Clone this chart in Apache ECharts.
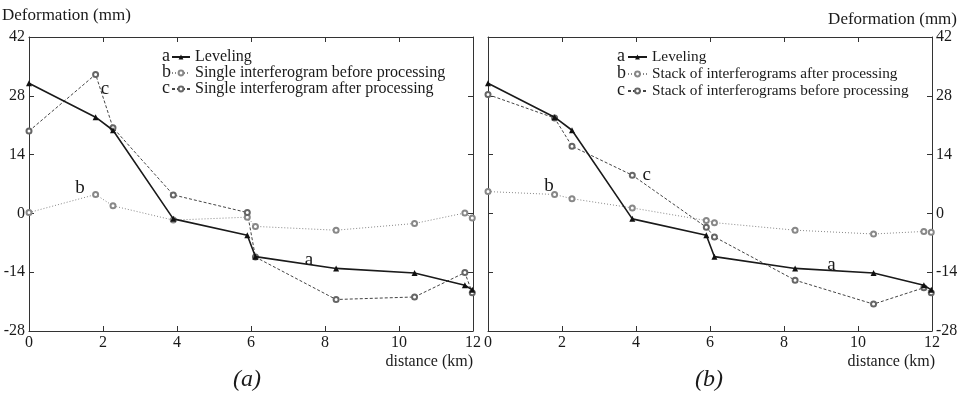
<!DOCTYPE html>
<html>
<head>
<meta charset="utf-8">
<script src="https://cdn.jsdelivr.net/npm/echarts@6/dist/echarts.min.js"></script>
<style>
  html, body { margin: 0; background: #fff; }
  #chart { width: 962px; height: 399px; }
</style>
</head>
<body>
<div id="chart"></div>
<script>
// distance along the profile (km), shared by every curve
const distance = [0, 1.8, 2.27, 3.9, 5.9, 6.12, 8.3, 10.42, 11.78, 11.98];

// deformation (mm)
const leveling = [31.0, 22.9, 19.8, -1.3, -5.2, -10.3, -13.1, -14.2, -17.1, -18.2];
const singleBefore = [0.2, 4.5, 1.8, -1.6, -0.9, -3.1, -4.0, -2.4, 0.1, -1.1];
const singleAfter = [19.6, 33.1, 20.4, 4.4, 0.2, -10.4, -20.5, -19.9, -14.1, -18.9];
const stackAfter = [5.2, 4.5, 3.5, 1.3, -1.7, -2.2, -4.0, -4.9, -4.3, -4.5];
const stackBefore = [28.3, 22.7, 16.0, 9.1, -3.3, -5.6, -15.9, -21.6, -17.7, -18.9];

// axis ranges
const xRange = { min: 0, max: 12, interval: 2 };
const yRange = { min: -28, max: 42, interval: 14 };

const FONT = 'Liberation Serif';
const INK = '#1a1a1a';

const chart = echarts.init(document.getElementById('chart'));

const pairs = vals => vals.map((v, i) => [distance[i], v]);

const axisLine = { show: true, onZero: false, lineStyle: { color: '#333', width: 1 } };
const axisTick = { show: true, inside: true, length: 5, lineStyle: { color: '#333' } };
const tickLabel = { fontFamily: FONT, fontSize: 16, color: INK };

function xAxes(grid) {
  return [
    { type: 'value', gridIndex: grid, position: 'bottom', ...xRange,
      axisLine, axisTick, splitLine: { show: false },
      axisLabel: { ...tickLabel, margin: 4 } },
    { type: 'value', gridIndex: grid, position: 'top', ...xRange,
      axisLine, axisTick, splitLine: { show: false }, axisLabel: { show: false } }
  ];
}

function yAxes(grid, labelSide) {
  const other = labelSide === 'left' ? 'right' : 'left';
  return [
    { type: 'value', gridIndex: grid, position: labelSide, ...yRange,
      axisLine, axisTick, splitLine: { show: false },
      axisLabel: { ...tickLabel, margin: 4 } },
    { type: 'value', gridIndex: grid, position: other, ...yRange,
      axisLine, axisTick, splitLine: { show: false }, axisLabel: { show: false } }
  ];
}

const styles = {
  level: {
    symbol: 'triangle', symbolSize: 6,
    itemStyle: { color: '#111' },
    lineStyle: { color: '#1a1a1a', width: 1.6, type: 'solid' }
  },
  dotted: {
    symbol: 'emptyCircle', symbolSize: 5,
    itemStyle: { color: '#888', borderWidth: 0.8 },
    lineStyle: { color: '#888', width: 1, type: [1, 2] }
  },
  dashed: {
    symbol: 'emptyCircle', symbolSize: 5,
    itemStyle: { color: '#666', borderWidth: 0.8 },
    lineStyle: { color: '#444', width: 1, type: [3, 2] }
  }
};

// letter tags placed at data coordinates next to the curves
function tag(text, x, y) {
  return {
    symbol: 'circle', symbolSize: 0, silent: true,
    label: { show: true, formatter: text, fontFamily: FONT, fontSize: 19, color: INK },
    data: [{ coord: [x, y] }]
  };
}

function line(name, vals, style, xi, yi, mark) {
  return {
    name, type: 'line', data: pairs(vals),
    xAxisIndex: xi, yAxisIndex: yi,
    showAllSymbol: true, animation: false, z: style === styles.level ? 5 : 3,
    ...style,
    markPoint: mark
  };
}

function legendLetters(x, ys) {
  return ['a', 'b', 'c'].map((t, i) => ({
    type: 'text', left: x, top: ys[i] - 10,
    style: { text: t, fontFamily: FONT, fontSize: 18, fill: INK }
  }));
}

chart.setOption({
  backgroundColor: '#fff',
  animation: false,
  grid: [
    { left: 29, top: 37, width: 444, height: 294 },
    { left: 488, top: 37, width: 444, height: 294 }
  ],
  xAxis: [...xAxes(0), ...xAxes(1)],
  yAxis: [...yAxes(0, 'left'), ...yAxes(1, 'right')],
  legend: [
    { orient: 'vertical', left: 171, top: 49, padding: 0, itemGap: 0,
      itemWidth: 18, itemHeight: 6, selectedMode: false,
      textStyle: { fontFamily: FONT, fontSize: 16, color: INK, lineHeight: 16 },
      data: ['Leveling', 'Single interferogram before processing', 'Single interferogram after processing'] },
    { orient: 'vertical', left: 627, top: 49, padding: 0, itemGap: 1,
      itemWidth: 19, itemHeight: 6, selectedMode: false,
      textStyle: { fontFamily: FONT, fontSize: 15.3, color: INK, lineHeight: 16 },
      data: ['Leveling', 'Stack of interferograms after processing', 'Stack of interferograms before processing'] }
  ],
  series: [
    line('Leveling', leveling, styles.level, 0, 0, tag('a', 7.57, -11.0)),
    line('Single interferogram before processing', singleBefore, styles.dotted, 0, 0, tag('b', 1.38, 6.0)),
    line('Single interferogram after processing', singleAfter, styles.dashed, 0, 0, tag('c', 2.05, 29.6)),
    line('Leveling', leveling, styles.level, 2, 2, tag('a', 9.28, -12.2)),
    line('Stack of interferograms after processing', stackAfter, styles.dotted, 2, 2, tag('b', 1.65, 6.6)),
    line('Stack of interferograms before processing', stackBefore, styles.dashed, 2, 2, tag('c', 4.29, 9.1))
  ],
  graphic: [
    { type: 'text', left: 2, top: 7,
      style: { text: 'Deformation (mm)', fontFamily: FONT, fontSize: 17, fill: INK } },
    { type: 'text', right: 5, top: 11,
      style: { text: 'Deformation (mm)', fontFamily: FONT, fontSize: 17, fill: INK } },
    { type: 'text', right: 489, top: 354,
      style: { text: 'distance (km)', fontFamily: FONT, fontSize: 16, fill: INK } },
    { type: 'text', right: 27, top: 354,
      style: { text: 'distance (km)', fontFamily: FONT, fontSize: 16, fill: INK } },
    { type: 'text', left: 233, top: 368,
      style: { text: '(a)', fontFamily: FONT, fontSize: 24, fontStyle: 'italic', fill: INK } },
    { type: 'text', left: 695, top: 368,
      style: { text: '(b)', fontFamily: FONT, fontSize: 24, fontStyle: 'italic', fill: INK } },
    ...legendLetters(162, [57, 73, 89]),
    ...legendLetters(617, [57, 74, 91])
  ]
});
</script>
</body>
</html>
